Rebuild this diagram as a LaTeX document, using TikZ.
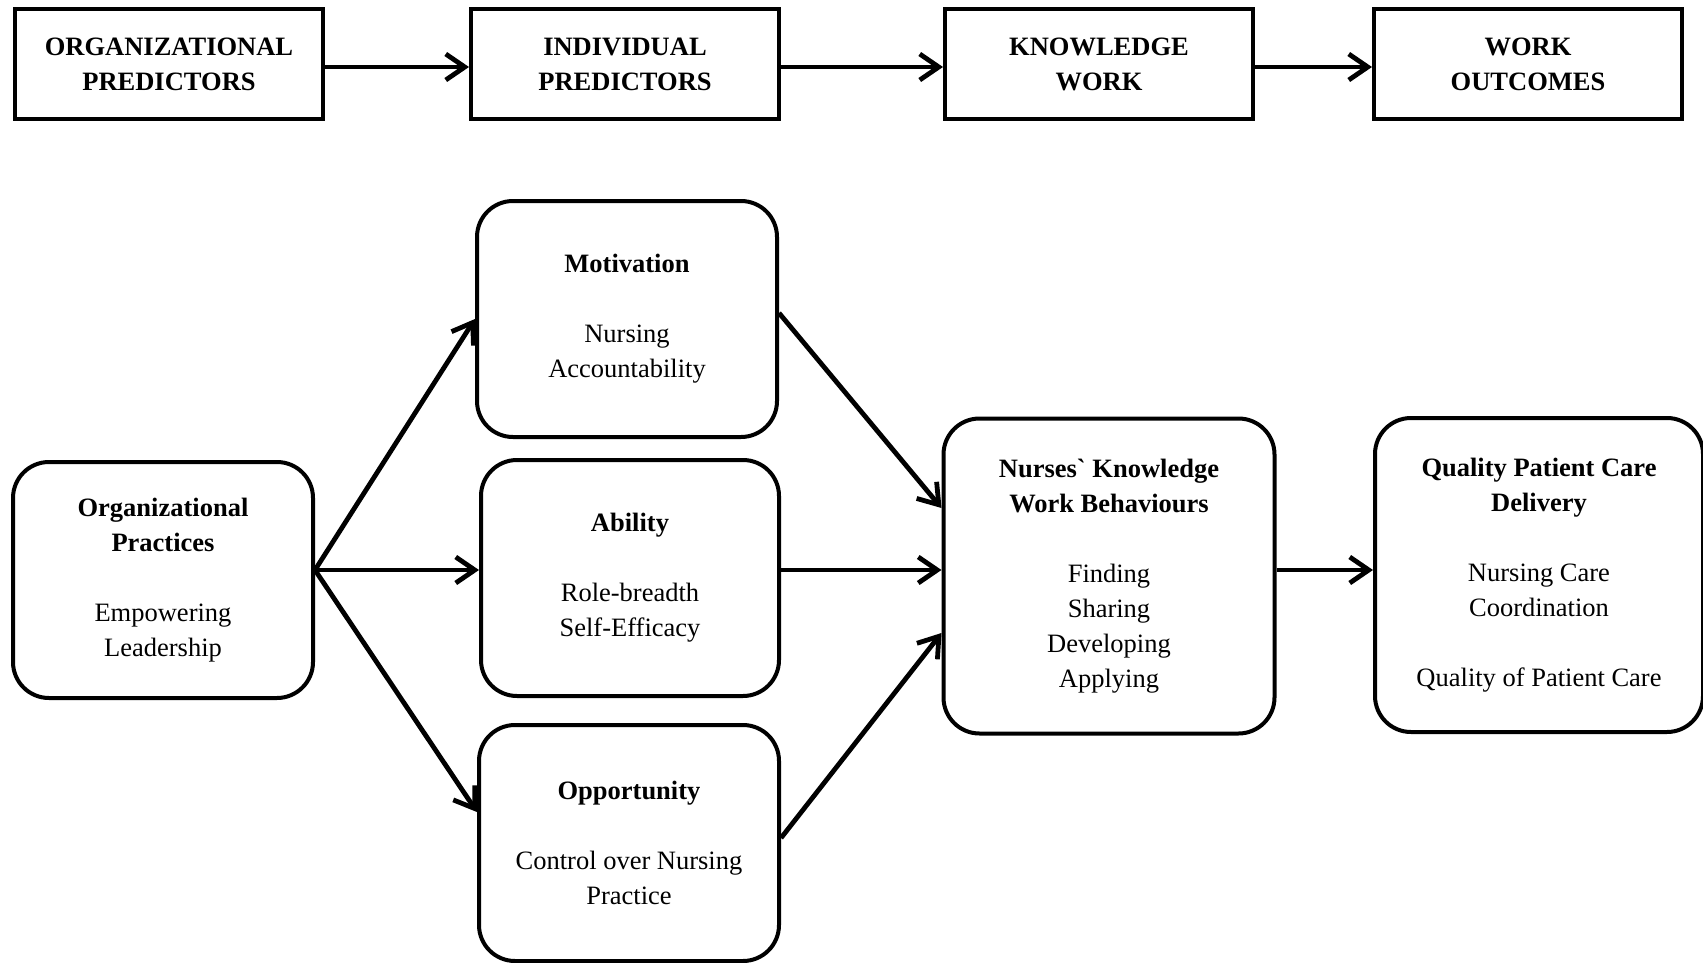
\documentclass[tikz,border=0pt]{standalone}
\usepackage{fontspec}
\setmainfont{Liberation Serif}
\usetikzlibrary{arrows.meta}

\begin{document}
\begin{tikzpicture}[x=0.5pt,y=-0.5pt,
  font=\fontsize{13.25}{17.5}\selectfont,
  level/.style={draw,line width=2pt,align=center,minimum width=154pt,minimum height=55pt,font=\fontsize{13.25}{17.5}\selectfont\bfseries},
  factor/.style={draw,line width=2pt,rounded corners=18pt,align=center,minimum width=150pt,minimum height=118pt},
  flow/.style={-{Straight Barb[length=9.5pt,width=13pt]},line width=2.4pt}]
  \useasboundingbox (0,0) rectangle (1703,963);

  % Top row (levels of the model)
  \node[level] (orgpred) at (169,64) {ORGANIZATIONAL\\PREDICTORS};
  \node[level] (indpred) at (625,64) {INDIVIDUAL\\PREDICTORS};
  \node[level] (kwork) at (1099,64) {KNOWLEDGE\\WORK};
  \node[level] (wout) at (1528,64) {WORK\\OUTCOMES};
  \draw[flow] ([yshift=-1.5pt]orgpred.east) -- ([yshift=-1.5pt]indpred.west);
  \draw[flow] ([yshift=-1.5pt]indpred.east) -- ([yshift=-1.5pt]kwork.west);
  \draw[flow] ([yshift=-1.5pt]kwork.east) -- ([yshift=-1.5pt]wout.west);

  % Organizational practices
  \node[factor] (orgprac) at (163,580) {\textbf{Organizational}\\\textbf{Practices}\\[17.5pt]Empowering\\Leadership};

  % Individual predictors (motivation, ability, opportunity)
  \node[factor] (motiv) at (627,319) {\textbf{Motivation}\\[17.5pt]Nursing\\Accountability};
  \node[factor,minimum width=149pt] (abil) at (630,578) {\textbf{Ability}\\[17.5pt]Role-breadth\\Self-Efficacy};
  \node[factor] (oppor) at (629,843) {\textbf{Opportunity}\\[17.5pt]Control over Nursing\\Practice};

  % Knowledge work and outcomes
  \node[factor,minimum width=165.5pt,minimum height=157.5pt] (kwb) at (1109,576) {\textbf{Nurses\textasciigrave{} Knowledge}\\\textbf{Work Behaviours}\\[17.5pt]Finding\\Sharing\\Developing\\Applying};
  \node[factor,minimum width=164pt,minimum height=157pt] (qpcd) at (1539,575) {\textbf{Quality Patient Care}\\\textbf{Delivery}\\[17.5pt]Nursing Care\\Coordination\\[17.5pt]Quality of Patient Care};

  % Paths
  \draw[flow] ([yshift=5pt]orgprac.east) -- (motiv.west);
  \draw[flow] ([yshift=5pt]orgprac.east) -- ([yshift=4pt]abil.west);
  \draw[flow] ([yshift=5pt]orgprac.east) -- ([yshift=15.5pt]oppor.west);
  \draw[flow] ([yshift=3pt]motiv.east) -- ([yshift=34pt]kwb.west);
  \draw[flow] ([yshift=4pt]abil.east) -- ([yshift=3pt]kwb.west);
  \draw[flow] ([yshift=2.5pt]oppor.east) -- ([yshift=-28.5pt]kwb.west);
  \draw[flow] ([yshift=3pt]kwb.east) -- ([yshift=2.5pt]qpcd.west);
\end{tikzpicture}
\end{document}
